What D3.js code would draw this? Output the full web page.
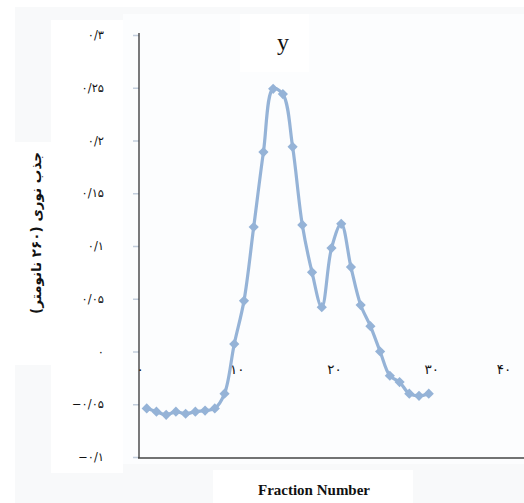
<!DOCTYPE html>
<html lang="fa">

<head>
    <meta charset="utf-8">
    <title>Fraction Number</title>
    <script type="text/javascript" src="https://cdn.jsdelivr.net/npm/d3@7"></script>
    <style>
        body { margin: 0; background: #fff; }
        svg { display: block; }
    </style>
</head>

<body>
    <div id="chart"></div>

    <script>
        // fraction numbers and absorbance at 260 nm
        const fractions = [1, 2, 3, 4, 5, 6, 7, 8, 9, 10, 11, 12, 13, 14, 15,
                           16, 17, 18, 19, 20, 21, 22, 23, 24, 25, 26, 27, 28, 29, 30];
        const absorbance = [-0.054, -0.057, -0.060, -0.057, -0.059, -0.057, -0.056, -0.054, -0.040, 0.007,
                            0.048, 0.118, 0.189, 0.249, 0.244, 0.194, 0.120, 0.075, 0.042, 0.098,
                            0.121, 0.080, 0.044, 0.024, 0.000, -0.023, -0.029, -0.040, -0.042, -0.040];
        const yTicks = [-0.1, -0.05, 0, 0.05, 0.1, 0.15, 0.2, 0.25, 0.3];
        const xTicks = [0, 10, 20, 30, 40];

        const title = "y";
        const xTitle = "Fraction Number";
        const yTitle = "جذب نوری (۲۶۰ نانومتر)";

        const width = 524;
        const height = 503;
        const lineColor = "#95b3d7";

        const faDigits = "۰۱۲۳۴۵۶۷۸۹";
        function toFa(s) {
            return s.replace(/\d/g, d => faDigits[+d]);
        }
        function faNumber(v) {
            if (v === 0) return "۰";
            const s = String(Math.abs(v)).replace(".", "/");
            return (v < 0 ? "\u2212" : "") + toFa(s);
        }

        const x = d3.scaleLinear().domain([0, 40]).range([137, 526]);
        const y = d3.scaleLinear().domain([-0.1, 0.3]).range([457, 35]);

        const svg = d3.select("#chart")
            .append("svg")
            .attr("width", width)
            .attr("height", height);

        // backgrounds (picture was a pasted Excel chart)
        svg.append("rect").attr("x", 15).attr("y", 7)
            .attr("width", width - 15).attr("height", height - 7)
            .attr("fill", "#f8f9fa");
        svg.append("rect").attr("x", 51).attr("y", 20)
            .attr("width", 72).attr("height", 453).attr("fill", "#fff");
        svg.append("rect").attr("x", 15).attr("y", 142)
            .attr("width", 36).attr("height", 223).attr("fill", "#fff");
        svg.append("rect").attr("x", 123).attr("y", 14)
            .attr("width", width - 123).attr("height", 450).attr("fill", "#fcfdfe");
        svg.append("rect").attr("x", 240).attr("y", 14)
            .attr("width", 69).attr("height", 58).attr("fill", "#fff");
        svg.append("rect").attr("x", 213).attr("y", 470)
            .attr("width", 200).attr("height", 33).attr("fill", "#fff");

        // y axis
        const yAxis = svg.append("g")
            .attr("transform", `translate(${x(0) + 2},0)`)
            .call(d3.axisLeft(y)
                .tickValues(yTicks)
                .tickSize(6)
                .tickPadding(29)
                .tickFormat(faNumber));
        yAxis.select(".domain").remove();
        yAxis.selectAll(".tick line").attr("stroke", "#c3cedd").attr("stroke-width", 1.5);
        yAxis.selectAll(".tick text")
            .attr("font-family", "'DejaVu Sans', sans-serif")
            .attr("font-size", 11.5)
            .attr("fill", "#111");

        svg.append("line")
            .attr("x1", x(0) + 2).attr("x2", x(0) + 2)
            .attr("y1", y(0.3) - 2).attr("y2", y(-0.1) + 1)
            .attr("stroke", "#333").attr("stroke-width", 1.3);
        svg.append("line")
            .attr("x1", x(0) + 1).attr("x2", width)
            .attr("y1", y(-0.1) + 1).attr("y2", y(-0.1) + 1)
            .attr("stroke", "#444").attr("stroke-width", 1.3);

        // x tick labels sit just under the zero line
        const xAxis = svg.append("g")
            .attr("transform", `translate(0,${y(0) + 13})`)
            .call(d3.axisBottom(x)
                .tickValues(xTicks)
                .tickSize(0)
                .tickPadding(0)
                .tickFormat(d => toFa(String(d))));
        xAxis.select(".domain").remove();
        xAxis.selectAll(".tick")
            .attr("transform", d => `translate(${Math.min(x(d) + 3, width - 20)},0)`);
        xAxis.selectAll(".tick text")
            .attr("font-family", "'DejaVu Sans', sans-serif")
            .attr("font-size", 13.5)
            .attr("fill", "#111");

        // series
        const line = d3.line()
            .x((d, i) => x(fractions[i]))
            .y(d => y(d))
            .curve(d3.curveCatmullRom.alpha(0.5));

        svg.append("path")
            .datum(absorbance)
            .attr("d", line)
            .attr("fill", "none")
            .attr("stroke", lineColor)
            .attr("stroke-width", 3.2)
            .attr("stroke-linejoin", "round");

        svg.append("g")
            .selectAll("path")
            .data(absorbance)
            .enter()
            .append("path")
            .attr("d", d3.symbol(d3.symbolSquare, 52))
            .attr("transform", (d, i) => `translate(${x(fractions[i])},${y(d)}) rotate(45)`)
            .attr("fill", lineColor);

        // titles
        svg.append("text")
            .attr("x", 283).attr("y", 50)
            .attr("text-anchor", "middle")
            .attr("font-family", "'Liberation Serif', serif")
            .attr("font-size", 24)
            .attr("fill", "#111")
            .text(title);

        svg.append("text")
            .attr("x", 314).attr("y", 495)
            .attr("text-anchor", "middle")
            .attr("font-family", "'Liberation Serif', serif")
            .attr("font-weight", "bold")
            .attr("font-size", 15)
            .attr("fill", "#111")
            .text(xTitle);

        svg.append("text")
            .attr("transform", "translate(41,233) rotate(-90)")
            .attr("direction", "rtl")
            .attr("text-anchor", "middle")
            .attr("font-family", "'DejaVu Sans', sans-serif")
            .attr("font-weight", "bold")
            .attr("font-size", 13.5)
            .attr("fill", "#111")
            .text(yTitle);
    </script>
</body>

</html>
